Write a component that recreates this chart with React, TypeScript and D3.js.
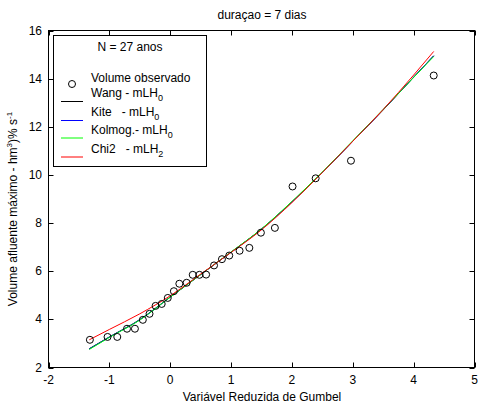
import React from "react";
import * as d3 from "d3";

const gumbelX = [-1.32, -1.03, -0.87, -0.71, -0.58, -0.45, -0.34, -0.24, -0.14, -0.04, 0.06, 0.15, 0.27, 0.37, 0.48, 0.59, 0.72, 0.85, 0.97, 1.14, 1.3, 1.49, 1.72, 2.01, 2.39, 2.97, 4.33];
const observed = [3.15, 3.27, 3.27, 3.61, 3.61, 3.98, 4.23, 4.56, 4.64, 4.89, 5.17, 5.48, 5.52, 5.85, 5.85, 5.86, 6.24, 6.5, 6.65, 6.85, 6.97, 7.6, 7.8, 9.52, 9.86, 10.59, 14.13];

const curveX = [-1.33, -1, -0.5, 0, 0.5, 1, 1.5, 2, 2.5, 3, 3.5, 4, 4.33];
const wangY = [2.78, 3.27, 3.99, 4.93, 5.86, 6.79, 7.75, 8.88, 10.1, 11.4, 12.7, 14.06, 14.95];
const kiteY = [2.77, 3.26, 3.98, 4.92, 5.86, 6.79, 7.75, 8.88, 10.1, 11.4, 12.71, 14.06, 14.95];
const kolmogY = [2.75, 3.25, 3.97, 4.92, 5.86, 6.8, 7.76, 8.9, 10.12, 11.42, 12.72, 14.05, 14.92];
const chi2Y = [3.15, 3.58, 4.23, 4.98, 5.88, 6.78, 7.72, 8.85, 10.1, 11.4, 12.72, 14.15, 15.13];

const xTicks = [-2, -1, 0, 1, 2, 3, 4, 5];
const yTicks = [2, 4, 6, 8, 10, 12, 14, 16];

const seriesNames = ["Wang", "Kite", "Kolmog.", "Chi2"];
const seriesSuffix = [" - mLH", "   - mLH", "- mLH", "   - mLH"];
const seriesSub = ["0", "0", "0", "2"];
const seriesColors = ["#000000", "#0000ff", "#00ff00", "#ff0000"];
const seriesValues = [wangY, kiteY, kolmogY, chi2Y];

const W = 480;
const H = 405;
const M = { left: 48.5, right: 474.5, top: 30.5, bottom: 367.5 };
const FONT = "'Liberation Sans', Arial, Helvetica, sans-serif";

export default function App() {
  const x = d3.scaleLinear().domain([-2, 5]).range([M.left, M.right]);
  const y = d3.scaleLinear().domain([2, 16]).range([M.bottom, M.top]);
  const line = d3
    .line<number>()
    .x((_, i) => x(curveX[i]))
    .y((d) => y(d))
    .curve(d3.curveMonotoneX);
  const fmt = (v: number) => String(v).replace("\u2212", "-");
  const tl = 5;

  const legX = 53.5;
  const legY = 35.5;
  const legW = 153;
  const legH = 131;

  return (
    <svg
      width={W}
      height={H}
      style={{ position: "absolute", left: 0, top: 0, background: "#fff" }}
      fontFamily={FONT}
    >
      <rect x={0} y={0} width={W} height={H} fill="#fff" />
      <text x={262} y={19} fontSize={12} textAnchor="middle" fill="#000">
        duraçao = 7 dias
      </text>

      {/* axes box */}
      <rect
        x={M.left}
        y={M.top}
        width={M.right - M.left}
        height={M.bottom - M.top}
        fill="none"
        stroke="#000"
        strokeWidth={1}
      />
      {xTicks.map((t) => (
        <g key={"xt" + t}>
          <line x1={Math.round(x(t)) + 0.5} x2={Math.round(x(t)) + 0.5} y1={M.bottom} y2={M.bottom - tl} stroke="#000" />
          <line x1={Math.round(x(t)) + 0.5} x2={Math.round(x(t)) + 0.5} y1={M.top} y2={M.top + tl} stroke="#000" />
          <text x={x(t)} y={384} fontSize={12} textAnchor="middle" fill="#000">
            {fmt(t)}
          </text>
        </g>
      ))}
      {yTicks.map((t) => (
        <g key={"yt" + t}>
          <line x1={M.left} x2={M.left + tl} y1={Math.round(y(t)) + 0.5} y2={Math.round(y(t)) + 0.5} stroke="#000" />
          <line x1={M.right} x2={M.right - tl} y1={Math.round(y(t)) + 0.5} y2={Math.round(y(t)) + 0.5} stroke="#000" />
          <text x={42} y={y(t) + 4} fontSize={12} textAnchor="end" fill="#000">
            {fmt(t)}
          </text>
        </g>
      ))}

      <text x={262} y={401} fontSize={12} textAnchor="middle" fill="#000">
        Variável Reduzida de Gumbel
      </text>
      <text transform={`translate(17,${209}) rotate(-90)`} fontSize={12} textAnchor="middle" fill="#000">
        Volume afluente máximo - hm
        <tspan fontSize={8} dy={-5}>3</tspan>
        <tspan dy={5}>)% s</tspan>
        <tspan fontSize={8} dy={-5}>-1</tspan>
      </text>

      {/* curves */}
      {seriesValues.map((vals, i) => (
        <path key={"c" + i} d={line(vals) || ""} fill="none" stroke={seriesColors[i]} strokeWidth={1} />
      ))}

      {/* observed */}
      {gumbelX.map((gx, i) => (
        <circle key={"p" + i} cx={x(gx)} cy={y(observed[i])} r={3.5} fill="none" stroke="#000" strokeWidth={1} />
      ))}

      {/* legend */}
      <rect x={legX} y={legY} width={legW} height={legH} fill="#fff" stroke="#000" strokeWidth={1} />
      <text x={legX + legW / 2} y={51} fontSize={12} textAnchor="middle" fill="#000">
        N = 27 anos
      </text>
      <circle cx={72} cy={84} r={3.5} fill="none" stroke="#000" strokeWidth={1} />
      <text x={91} y={82} fontSize={12} fill="#000">
        Volume observado
      </text>
      {seriesNames.map((n, i) => {
        const ly = Math.round(101 + i * 18.5);
        const off = i < 2 ? 0.5 : 0;
        return (
          <g key={"l" + i}>
            <line
              x1={61}
              x2={83}
              y1={ly + off}
              y2={ly + off}
              stroke={seriesColors[i]}
              strokeWidth={1}
            />
            <text x={91} y={ly - 4} fontSize={12} fill="#000" style={{ whiteSpace: "pre" }}>
              {n + seriesSuffix[i]}
              <tspan fontSize={9} dy={4}>{seriesSub[i]}</tspan>
            </text>
          </g>
        );
      })}
    </svg>
  );
}
